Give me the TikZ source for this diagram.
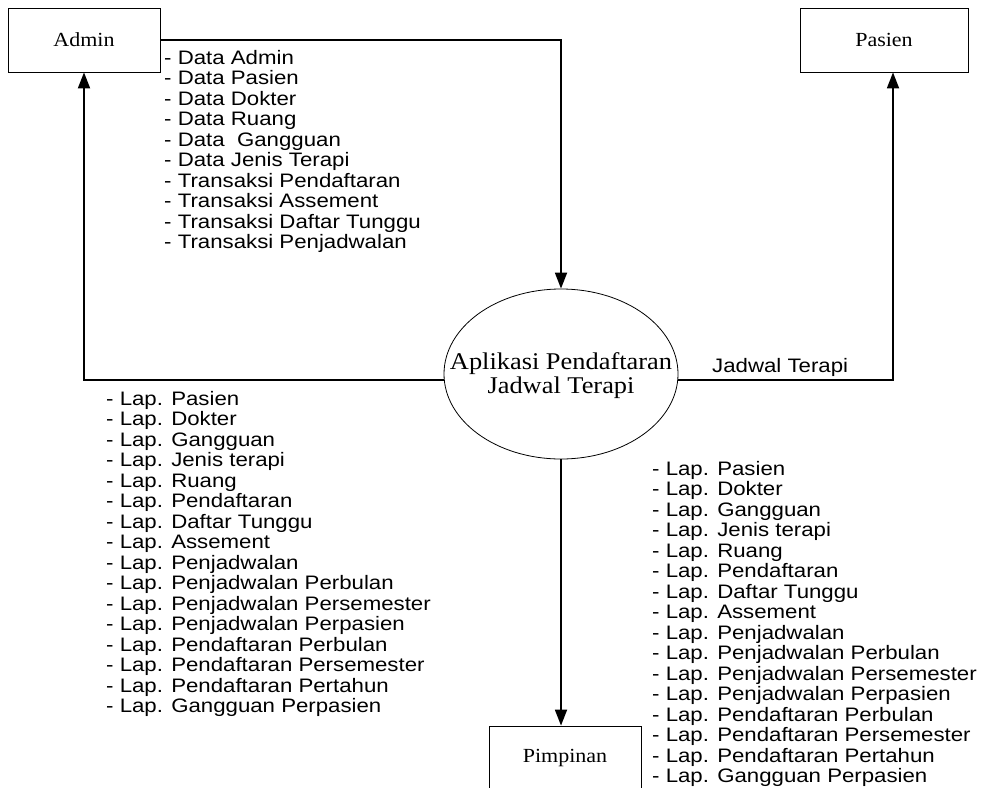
\documentclass[tikz,border=0pt]{standalone}
\usepackage{fontspec}
\setmainfont[FakeStretch=1.1]{Liberation Serif}
\setsansfont[FakeStretch=1.14]{Liberation Sans}
\usetikzlibrary{shapes.geometric,arrows.meta}
\newcommand{\laporan}{- Lap. Pasien\\- Lap. Dokter\\- Lap. Gangguan\\- Lap. Jenis terapi\\
  - Lap. Ruang\\- Lap. Pendaftaran\\- Lap. Daftar Tunggu\\- Lap. Assement\\
  - Lap. Penjadwalan\\- Lap. Penjadwalan Perbulan\\- Lap. Penjadwalan Persemester\\
  - Lap. Penjadwalan Perpasien\\- Lap. Pendaftaran Perbulan\\- Lap. Pendaftaran Persemester\\
  - Lap. Pendaftaran Pertahun\\- Lap. Gangguan Perpasien}
\tikzset{
  entitas/.style={draw,line width=0.8pt,minimum height=64pt,font=\fontsize{20}{22}\selectfont},
  aliran/.style={line width=1.8pt,-{Triangle[length=16pt,width=12pt]}},
  daftar/.style={align=left,inner sep=0pt,anchor=north west,font=\sffamily\fontsize{19.5}{20.5}\selectfont},
}
\begin{document}
\begin{tikzpicture}[x=1pt,y=-1pt]
    \useasboundingbox (0,0) rectangle (982,787);
    \node[entitas,minimum width=152pt] (admin) at (84,40) {Admin};
    \node[entitas,minimum width=168pt] (pasien) at (884,40) {Pasien};
    \node[entitas,minimum width=152pt] (pimpinan) at (565,758) {Pimpinan};
    \node[draw,ellipse,line width=0.8pt,minimum width=234pt,minimum height=170pt,inner sep=0pt]
      (proses) at (561,374) {};
    \node[align=center,inner sep=0pt,font=\fontsize{24}{24}\selectfont] (prosesteks) at (561,376)
      {Aplikasi Pendaftaran\\Jadwal Terapi};
    % aliran data
    \draw[aliran] (admin.east) -| (proses.north);
    \draw[aliran] ([yshift=-6pt]proses.west) -| (admin.south);
    \draw[aliran] ([yshift=-6pt]proses.east) -| ([xshift=9pt]pasien.south);
    \draw[aliran] (proses.south) -- (proses.south |- pimpinan.north);
    % label aliran
    \node[daftar] (datamasuk) at (164,50) {- Data Admin\\- Data Pasien\\- Data Dokter\\- Data Ruang\\
      - Data\ \ Gangguan\\- Data Jenis Terapi\\- Transaksi Pendaftaran\\- Transaksi Assement\\
      - Transaksi Daftar Tunggu\\- Transaksi Penjadwalan};
    \node[daftar] (lapadmin) at (106,391) {\laporan};
    \node[daftar] (lappimpinan) at (652,461) {\laporan};
    \node[daftar,anchor=base west] (jadwal) at (712,372) {Jadwal Terapi};
\end{tikzpicture}
\end{document}
